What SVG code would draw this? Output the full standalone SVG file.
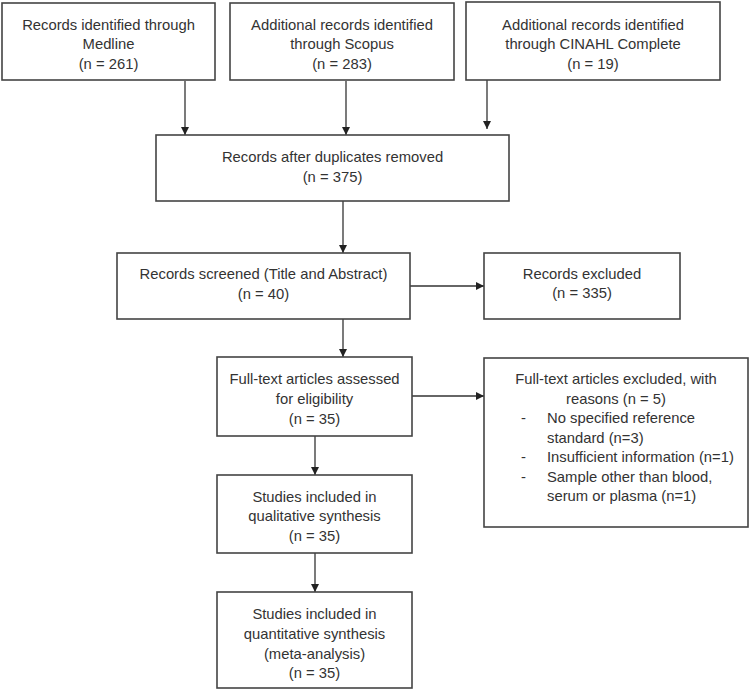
<svg xmlns="http://www.w3.org/2000/svg" width="750" height="700" viewBox="0 0 750 700">
<defs>
<style>
.box{fill:#fff;stroke:#444;stroke-width:1.6}
.t{font-family:"Liberation Sans",Arial,sans-serif;font-size:14.8px;fill:#333;text-anchor:middle}
.l{text-anchor:start}
.c{stroke:#333;stroke-width:1.3;fill:none;marker-end:url(#ah)}
</style>
<marker id="ah" viewBox="0 0 10 10" refX="10" refY="5" markerWidth="8" markerHeight="8" markerUnits="userSpaceOnUse" orient="auto">
<path d="M0,0 L10,5 L0,10 z" fill="#222"/>
</marker>
</defs>
<rect width="750" height="700" fill="#fff"/>
<g id="connectors">
<line class="c" x1="185" y1="81" x2="185" y2="135"/>
<line class="c" x1="346" y1="81" x2="346" y2="135"/>
<line class="c" x1="487" y1="80" x2="487" y2="129"/>
<line class="c" x1="343" y1="201" x2="343" y2="253"/>
<line class="c" x1="410" y1="286" x2="484" y2="286"/>
<line class="c" x1="343" y1="319" x2="343" y2="357"/>
<line class="c" x1="412" y1="396" x2="484" y2="396"/>
<line class="c" x1="315" y1="436" x2="315" y2="475"/>
<line class="c" x1="315" y1="553" x2="315" y2="592"/>
</g>
<g id="medline">
<rect class="box" x="2" y="3" width="213" height="77"/>
<text class="t" x="108.5" y="30">Records identified through</text>
<text class="t" x="108.5" y="49">Medline</text>
<text class="t" x="108.5" y="69">(n = 261)</text>
</g>
<g id="scopus">
<rect class="box" x="230" y="3" width="224" height="77"/>
<text class="t" x="342" y="30">Additional records identified</text>
<text class="t" x="342" y="49">through Scopus</text>
<text class="t" x="342" y="69">(n = 283)</text>
</g>
<g id="cinahl">
<rect class="box" x="466" y="2" width="254" height="78"/>
<text class="t" x="593" y="30">Additional records identified</text>
<text class="t" x="593" y="49">through CINAHL Complete</text>
<text class="t" x="593" y="69">(n = 19)</text>
</g>
<g id="duplicates">
<rect class="box" x="156" y="135" width="353" height="66"/>
<text class="t" x="332.5" y="162">Records after duplicates removed</text>
<text class="t" x="332.5" y="182">(n = 375)</text>
</g>
<g id="screened">
<rect class="box" x="117" y="253" width="293" height="66"/>
<text class="t" x="263.5" y="279">Records screened (Title and Abstract)</text>
<text class="t" x="263.5" y="299">(n = 40)</text>
</g>
<g id="excluded">
<rect class="box" x="484" y="253" width="196" height="66"/>
<text class="t" x="582" y="279">Records excluded</text>
<text class="t" x="582" y="298">(n = 335)</text>
</g>
<g id="fulltext">
<rect class="box" x="217" y="357" width="195" height="79"/>
<text class="t" x="314.5" y="384">Full-text articles assessed</text>
<text class="t" x="314.5" y="404">for eligibility</text>
<text class="t" x="314.5" y="424">(n = 35)</text>
</g>
<g id="fulltext-excluded">
<rect class="box" x="484" y="358" width="264" height="169"/>
<text class="t" x="616" y="384">Full-text articles excluded, with</text>
<text class="t" x="616" y="404">reasons (n = 5)</text>
<text class="t l" x="521" y="423">-</text>
<text class="t l" x="547" y="423">No specified reference</text>
<text class="t l" x="547" y="443">standard (n=3)</text>
<text class="t l" x="521" y="462">-</text>
<text class="t l" x="547" y="462">Insufficient information (n=1)</text>
<text class="t l" x="521" y="482">-</text>
<text class="t l" x="547" y="482">Sample other than blood,</text>
<text class="t l" x="547" y="501">serum or plasma (n=1)</text>
</g>
<g id="qualitative">
<rect class="box" x="217" y="475" width="195" height="78"/>
<text class="t" x="314.5" y="502">Studies included in</text>
<text class="t" x="314.5" y="521">qualitative synthesis</text>
<text class="t" x="314.5" y="541">(n = 35)</text>
</g>
<g id="quantitative">
<rect class="box" x="217" y="592" width="195" height="96"/>
<text class="t" x="314.5" y="619">Studies included in</text>
<text class="t" x="314.5" y="639">quantitative synthesis</text>
<text class="t" x="314.5" y="659">(meta-analysis)</text>
<text class="t" x="314.5" y="678">(n = 35)</text>
</g>
</svg>
